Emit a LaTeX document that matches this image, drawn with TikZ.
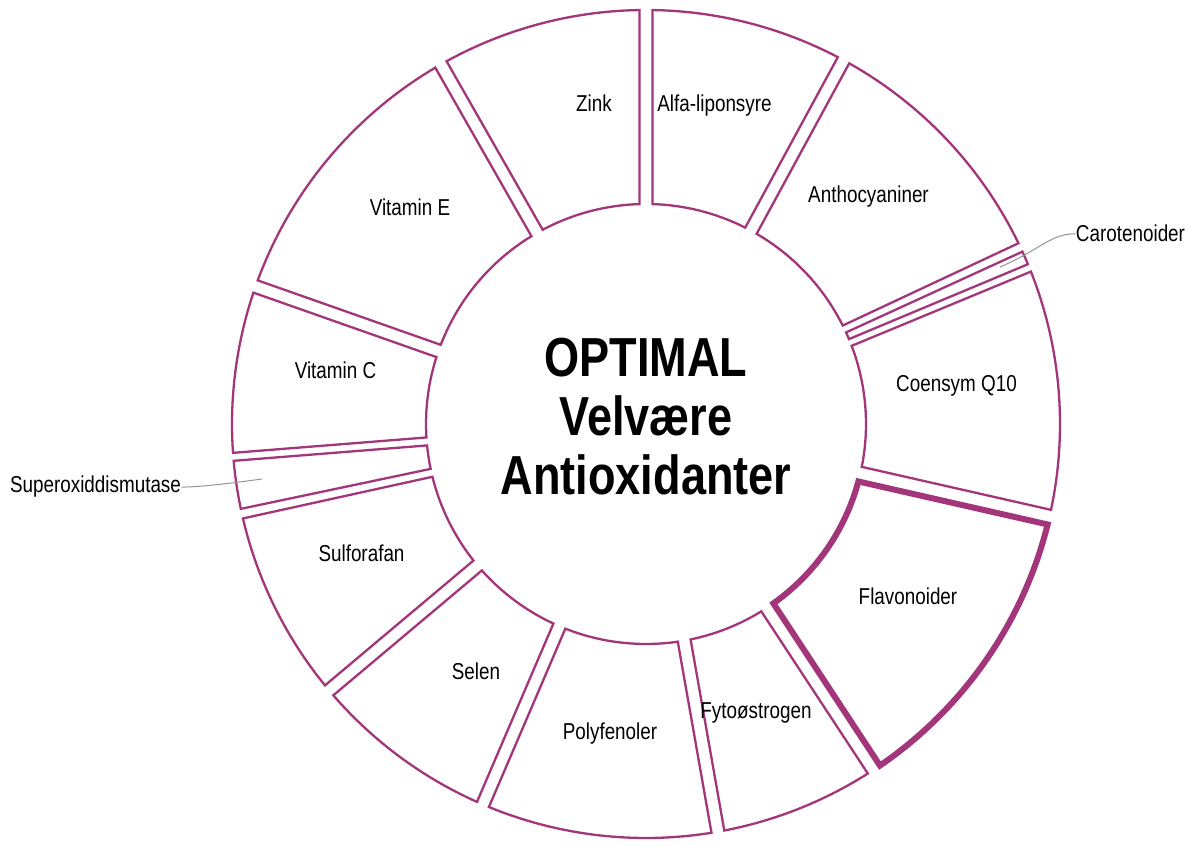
\documentclass[tikz,border=0pt]{standalone}
\usepackage{fontspec}
\setmainfont{Liberation Sans}[FakeStretch=0.82]
\usetikzlibrary{calc}

\definecolor{plum}{RGB}{163,53,122}
\definecolor{leadgray}{RGB}{150,150,150}

\def\Rout{414}
\def\Rin{220}
% ring segment: [style]{start angle}{start gap}{end angle}{end gap}
\newcommand{\ringseg}[5][]{%
  \draw[seg,#1] ($(ctr)+({#2+asin(#3/\Rout)}:\Rout)$)
    arc[start angle={#2+asin(#3/\Rout)}, end angle={#4-asin(#5/\Rout)}, radius=\Rout]
    -- ($(ctr)+({#4-asin(#5/\Rin)}:\Rin)$)
    arc[start angle={#4-asin(#5/\Rin)}, end angle={#2+asin(#3/\Rin)}, radius=\Rin]
    -- cycle;}

\begin{document}
\begin{tikzpicture}[
  x=1pt, y=1pt,
  seg/.style={draw=plum, line width=2.3pt, fill=white},
  hl/.style={line width=6pt},
  lbl/.style={font=\fontsize{23}{27}\selectfont, inner sep=0.5pt, anchor=base},
  title/.style={font=\fontsize{55}{59}\selectfont\bfseries, align=center},
  leader/.style={draw=leadgray, line width=1pt}
]
\path[fill=white] (0,0) rectangle (1188,841);
\coordinate (ctr) at (646,417);

% segments, counter-clockwise from the right
\ringseg{-12.8}{6}{22.5}{6.5}        % Coensym Q10
\ringseg{22.7}{0}{24.6}{0}           % Carotenoider
\ringseg{25.1}{5.7}{61.5}{6.5}       % Anthocyaniner
\ringseg{61.5}{6.5}{90}{6.5}         % Alfa-liponsyre
\ringseg{90}{6.5}{119.7}{6.5}        % Zink
\ringseg{119.7}{6.5}{160.6}{6.5}     % Vitamin E
\ringseg{160.6}{6.5}{184.55}{4}      % Vitamin C
\ringseg{184.55}{4}{191.9}{0.5}      % Superoxiddismutase
\ringseg{192.4}{5.7}{220.05}{6.5}    % Sulforafan
\ringseg{220.05}{6.5}{246.8}{6.5}    % Selen
\ringseg{246.8}{6.5}{280}{6.5}       % Polyfenoler
\ringseg{280}{6.5}{303.3}{6.5}       % Fytoøstrogen
\ringseg[hl]{-56.7}{8}{-12.8}{9}     % Flavonoider

\node[title] (title) at (646,424) {OPTIMAL\\Velvære\\Antioxidanter};

\node[lbl] (zink) at (594,729.5) {Zink};
\node[lbl] (alfa) at (714.5,729.5) {Alfa-liponsyre};
\node[lbl] (antho) at (868.5,638.5) {Anthocyaniner};
\node[lbl] (caroten) at (1130.5,599) {Carotenoider};
\node[lbl] (coensym) at (956.5,449.5) {Coensym Q10};
\node[lbl] (flavo) at (908,236) {Flavonoider};
\node[lbl] (fyto) at (756,122.5) {Fytoøstrogen};
\node[lbl] (poly) at (610,101.5) {Polyfenoler};
\node[lbl] (selen) at (476,161.5) {Selen};
\node[lbl] (sulfo) at (361.5,279.5) {Sulforafan};
\node[lbl] (superox) at (95.5,348) {Superoxiddismutase};
\node[lbl] (vitc) at (335.5,462.5) {Vitamin C};
\node[lbl] (vite) at (410,625.5) {Vitamin E};

% leader lines for the thin slices
\coordinate (carotip) at (1000,574);
\coordinate (supertip) at (262,362);
\draw[leader] (caroten.west) .. controls +(-25,0) and +(40,17) .. (carotip);
\draw[leader] (superox.east) .. controls +(20,0) and +(-30,-4) .. (supertip);

\end{tikzpicture}
\end{document}
